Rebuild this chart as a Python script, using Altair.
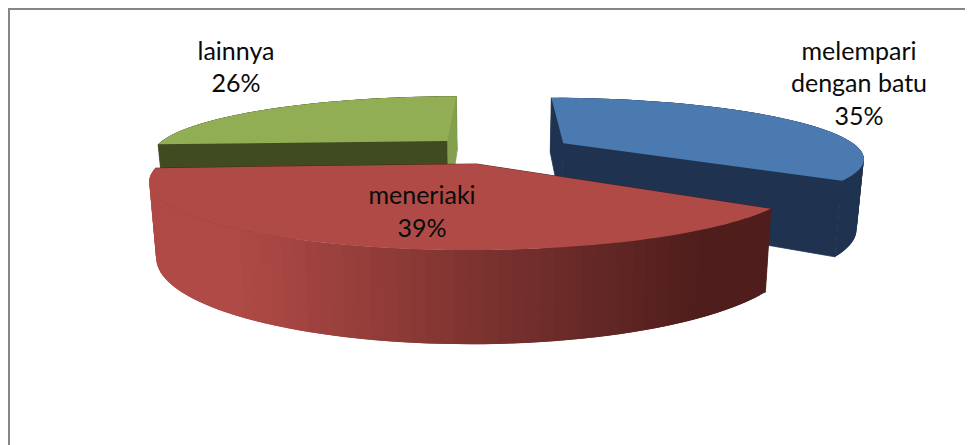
import math
import altair as alt

categories = ["melempari dengan batu", "meneriaki", "lainnya"]
shares = [35, 39, 26]
top_colors = ["#4a7ab0", "#b04a46", "#92ae55"]
wall_colors = ["#1f3350", "#4f1e1c", "#404b21"]
start_face_colors = ["#1f3350", "#4f1e1c", "#404b21"]
end_face_colors = ["#1f3350", "#4f1e1c", "#84a04f"]
explode = [0.25, 0.23, 0.23]
radii = [0.975, 0.985, 0.97]

CX, CY, R, S, P, H = 497, 150, 305, 60, 0.23, 68


def project(u, v, z=0.0):
    k = 1 / (1 - P * v)
    return [round(CX + R * u * k * (1 - 0.02 * z), 2), round(CY + S * v * k + z * H * k, 2)]


def mix(a, b, t):
    ca = [int(a[i:i + 2], 16) for i in (1, 3, 5)]
    cb = [int(b[i:i + 2], 16) for i in (1, 3, 5)]
    return "#" + "".join(f"{round(x + (y - x) * t):02x}" for x, y in zip(ca, cb))


def poly(points, color, w=0):
    return {"type": "Feature", "properties": {"c": color, "w": w},
            "geometry": {"type": "Polygon", "coordinates": [points + [points[0]]]}}


slices = []
start = 0.0
for name, share, e in zip(categories, shares, explode):
    sweep = share * 3.6
    mid = math.radians(start + sweep / 2)
    slices.append((start, start + sweep, e * math.sin(mid), -e * math.cos(mid)))
    start += sweep


def rim(i, a, z=0.0):
    _, _, ou, ov = slices[i]
    t = math.radians(a)
    return project(ou + radii[i] * math.sin(t), ov - radii[i] * math.cos(t), z)


def apex(i, z=0.0):
    _, _, ou, ov = slices[i]
    return project(ou, ov, z)


features = []
for i in (0, 2, 1):
    a0, a1, _, _ = slices[i]
    steps = [a0 + (a1 - a0) * j / 140 for j in range(141)]
    faces = [
        poly([rim(i, a0), apex(i), apex(i, 1), rim(i, a0, 1)], start_face_colors[i], 0.8),
        poly([rim(i, a1), apex(i), apex(i, 1), rim(i, a1, 1)], end_face_colors[i], 0.8),
    ]
    walls = []
    bands = steps[::2]
    for j in range(len(bands) - 1):
        p, q = bands[j], bands[min(j + 2, len(bands) - 1)]
        if i == 1:
            x = (rim(i, bands[j])[0] + rim(i, bands[j + 1])[0]) / 2
            c = mix(top_colors[1], wall_colors[1], min(1, max(0, (x - 230) / 470)))
        else:
            c = wall_colors[i]
        walls.append(poly([rim(i, p), rim(i, q), rim(i, q, 1), rim(i, p, 1)], c))
    features += (faces + walls) if i == 1 else (walls + faces)
    features.append(poly([apex(i)] + [rim(i, a) for a in steps], top_colors[i]))

W, Hh = 957, 437

shapes = alt.Chart(alt.Data(values=features)).mark_geoshape().encode(
    fill=alt.Fill("properties.c:N", scale=None),
    stroke=alt.Stroke("properties.c:N", scale=None),
    strokeWidth=alt.StrokeWidth("properties.w:Q", scale=None),
).project(type="identity", scale=1, translate=[-8, -8])

anchor = alt.Chart(alt.Data(values=[{"a": 1}]))
frame_v = anchor.mark_rule(color="#868686", strokeWidth=2).encode(
    x=alt.value(1), y=alt.value(1), y2=alt.value(Hh))
frame_h = anchor.mark_rule(color="#868686", strokeWidth=2).encode(
    x=alt.value(0), x2=alt.value(W), y=alt.value(1))


def label(text, x, y):
    return anchor.mark_text(font="Lato", fontSize=25, color="#0a0a0a", align="center",
                            baseline="middle").encode(
        text=alt.value(text), x=alt.value(x - 8), y=alt.value(y - 8))


texts = [
    label("melempari", 859, 52), label("dengan batu", 859, 84), label(f"{shares[0]}%", 859, 117),
    label("meneriaki", 422, 196), label(f"{shares[1]}%", 422, 229),
    label("lainnya", 236, 52), label(f"{shares[2]}%", 236, 84),
]

chart = alt.layer(shapes, frame_v, frame_h, *texts).properties(
    width=W, height=Hh, padding=0, autosize=alt.AutoSizeParams(type="none")
).configure_view(stroke=None)

chart.save("out.html", embed_options={"renderer": "svg", "actions": False})
